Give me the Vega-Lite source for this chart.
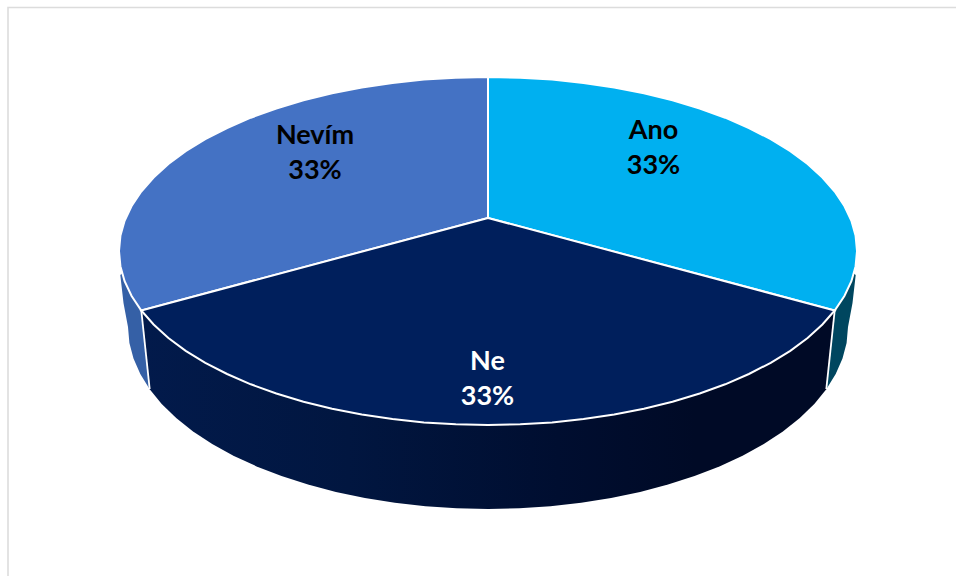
{"$schema":"https://vega.github.io/schema/vega-lite/v6.json","width":956,"height":576,"padding":0,"autosize":{"type":"none"},"background":"white","view":{"stroke":null},
"datasets":{
"frame":[{"x":956,"y":7.5,"seq":1},{"x":8,"y":7.5,"seq":2},{"x":8,"y":576,"seq":3}],
"outline":[
{"part":"RightWall","seq":1,"x":834.7,"y":310.5},{"part":"RightWall","seq":2,"x":850,"y":270},{"part":"RightWall","seq":3,"x":855.7,"y":275},{"part":"RightWall","seq":4,"x":852.5,"y":303},{"part":"RightWall","seq":5,"x":848,"y":327},{"part":"RightWall","seq":6,"x":846.6,"y":342.9},{"part":"RightWall","seq":7,"x":842.5,"y":358.6},{"part":"RightWall","seq":8,"x":835.7,"y":374.1},{"part":"RightWall","seq":9,"x":826.3,"y":389.2},
{"part":"LeftWall","seq":1,"x":141.3,"y":310.5},{"part":"LeftWall","seq":2,"x":126,"y":270},{"part":"LeftWall","seq":3,"x":120.3,"y":275},{"part":"LeftWall","seq":4,"x":123.5,"y":303},{"part":"LeftWall","seq":5,"x":128,"y":327},{"part":"LeftWall","seq":6,"x":129.4,"y":342.9},{"part":"LeftWall","seq":7,"x":133.5,"y":358.6},{"part":"LeftWall","seq":8,"x":140.3,"y":374.1},{"part":"LeftWall","seq":9,"x":149.7,"y":389.2},
{"part":"FrontWall","seq":1,"x":834.7,"y":310.5},{"part":"FrontWall","seq":2,"x":141.3,"y":310.5},{"part":"FrontWall","seq":3,"x":149.7,"y":389.2},{"part":"FrontWall","seq":4,"x":161.7,"y":403.9},{"part":"FrontWall","seq":5,"x":176.2,"y":418},{"part":"FrontWall","seq":6,"x":193.1,"y":431.4},{"part":"FrontWall","seq":7,"x":212.2,"y":444},{"part":"FrontWall","seq":8,"x":233.4,"y":455.7},{"part":"FrontWall","seq":9,"x":256.6,"y":466.4},{"part":"FrontWall","seq":10,"x":281.5,"y":476.1},{"part":"FrontWall","seq":11,"x":308,"y":484.6},{"part":"FrontWall","seq":12,"x":335.9,"y":491.9},{"part":"FrontWall","seq":13,"x":364.9,"y":498},{"part":"FrontWall","seq":14,"x":394.8,"y":502.8},{"part":"FrontWall","seq":15,"x":425.5,"y":506.2},{"part":"FrontWall","seq":16,"x":456.6,"y":508.3},{"part":"FrontWall","seq":17,"x":488,"y":509},{"part":"FrontWall","seq":18,"x":519.4,"y":508.3},{"part":"FrontWall","seq":19,"x":550.5,"y":506.2},{"part":"FrontWall","seq":20,"x":581.2,"y":502.8},{"part":"FrontWall","seq":21,"x":611.1,"y":498},{"part":"FrontWall","seq":22,"x":640.1,"y":491.9},{"part":"FrontWall","seq":23,"x":668,"y":484.6},{"part":"FrontWall","seq":24,"x":694.5,"y":476.1},{"part":"FrontWall","seq":25,"x":719.4,"y":466.4},{"part":"FrontWall","seq":26,"x":742.6,"y":455.7},{"part":"FrontWall","seq":27,"x":763.8,"y":444},{"part":"FrontWall","seq":28,"x":782.9,"y":431.4},{"part":"FrontWall","seq":29,"x":799.8,"y":418},{"part":"FrontWall","seq":30,"x":814.3,"y":403.9},{"part":"FrontWall","seq":31,"x":826.3,"y":389.2},
{"part":"Ano","seq":1,"x":488,"y":218},{"part":"Ano","seq":2,"x":488,"y":77},{"part":"Ano","seq":3,"x":520.2,"y":77.7},{"part":"Ano","seq":4,"x":552.1,"y":79.6},{"part":"Ano","seq":5,"x":583.5,"y":82.9},{"part":"Ano","seq":6,"x":614.2,"y":87.5},{"part":"Ano","seq":7,"x":643.9,"y":93.3},{"part":"Ano","seq":8,"x":672.5,"y":100.3},{"part":"Ano","seq":9,"x":699.7,"y":108.5},{"part":"Ano","seq":10,"x":725.2,"y":117.7},{"part":"Ano","seq":11,"x":748.9,"y":128},{"part":"Ano","seq":12,"x":770.7,"y":139.2},{"part":"Ano","seq":13,"x":790.3,"y":151.2},{"part":"Ano","seq":14,"x":807.6,"y":164},{"part":"Ano","seq":15,"x":822.4,"y":177.5},{"part":"Ano","seq":16,"x":834.7,"y":191.5},{"part":"Ano","seq":17,"x":844.4,"y":206},{"part":"Ano","seq":18,"x":851.4,"y":220.8},{"part":"Ano","seq":19,"x":855.6,"y":235.8},{"part":"Ano","seq":20,"x":857,"y":251},{"part":"Ano","seq":21,"x":855.6,"y":266.2},{"part":"Ano","seq":22,"x":851.4,"y":281.2},{"part":"Ano","seq":23,"x":844.4,"y":296},{"part":"Ano","seq":24,"x":834.7,"y":310.5},{"part":"Ano","seq":25,"x":488,"y":218},
{"part":"Ne","seq":1,"x":488,"y":218},{"part":"Ne","seq":2,"x":834.7,"y":310.5},{"part":"Ne","seq":3,"x":822.4,"y":324.5},{"part":"Ne","seq":4,"x":807.6,"y":338},{"part":"Ne","seq":5,"x":790.3,"y":350.8},{"part":"Ne","seq":6,"x":770.7,"y":362.8},{"part":"Ne","seq":7,"x":748.9,"y":374},{"part":"Ne","seq":8,"x":725.2,"y":384.3},{"part":"Ne","seq":9,"x":699.7,"y":393.5},{"part":"Ne","seq":10,"x":672.5,"y":401.7},{"part":"Ne","seq":11,"x":643.9,"y":408.7},{"part":"Ne","seq":12,"x":614.2,"y":414.5},{"part":"Ne","seq":13,"x":583.5,"y":419.1},{"part":"Ne","seq":14,"x":552.1,"y":422.4},{"part":"Ne","seq":15,"x":520.2,"y":424.3},{"part":"Ne","seq":16,"x":488,"y":425},{"part":"Ne","seq":17,"x":455.8,"y":424.3},{"part":"Ne","seq":18,"x":423.9,"y":422.4},{"part":"Ne","seq":19,"x":392.5,"y":419.1},{"part":"Ne","seq":20,"x":361.8,"y":414.5},{"part":"Ne","seq":21,"x":332.1,"y":408.7},{"part":"Ne","seq":22,"x":303.5,"y":401.7},{"part":"Ne","seq":23,"x":276.3,"y":393.5},{"part":"Ne","seq":24,"x":250.8,"y":384.3},{"part":"Ne","seq":25,"x":227.1,"y":374},{"part":"Ne","seq":26,"x":205.3,"y":362.8},{"part":"Ne","seq":27,"x":185.7,"y":350.8},{"part":"Ne","seq":28,"x":168.4,"y":338},{"part":"Ne","seq":29,"x":153.6,"y":324.5},{"part":"Ne","seq":30,"x":141.3,"y":310.5},{"part":"Ne","seq":31,"x":488,"y":218},
{"part":"Nevím","seq":1,"x":488,"y":218},{"part":"Nevím","seq":2,"x":141.3,"y":310.5},{"part":"Nevím","seq":3,"x":131.6,"y":296},{"part":"Nevím","seq":4,"x":124.6,"y":281.2},{"part":"Nevím","seq":5,"x":120.4,"y":266.2},{"part":"Nevím","seq":6,"x":119,"y":251},{"part":"Nevím","seq":7,"x":120.4,"y":235.8},{"part":"Nevím","seq":8,"x":124.6,"y":220.8},{"part":"Nevím","seq":9,"x":131.6,"y":206},{"part":"Nevím","seq":10,"x":141.3,"y":191.5},{"part":"Nevím","seq":11,"x":153.6,"y":177.5},{"part":"Nevím","seq":12,"x":168.4,"y":164},{"part":"Nevím","seq":13,"x":185.7,"y":151.2},{"part":"Nevím","seq":14,"x":205.3,"y":139.2},{"part":"Nevím","seq":15,"x":227.1,"y":128},{"part":"Nevím","seq":16,"x":250.8,"y":117.7},{"part":"Nevím","seq":17,"x":276.3,"y":108.5},{"part":"Nevím","seq":18,"x":303.5,"y":100.3},{"part":"Nevím","seq":19,"x":332.1,"y":93.3},{"part":"Nevím","seq":20,"x":361.8,"y":87.5},{"part":"Nevím","seq":21,"x":392.5,"y":82.9},{"part":"Nevím","seq":22,"x":423.9,"y":79.6},{"part":"Nevím","seq":23,"x":455.8,"y":77.7},{"part":"Nevím","seq":24,"x":488,"y":77},{"part":"Nevím","seq":25,"x":488,"y":218},
{"part":"SeamRight","seq":1,"x":834.7,"y":310.5},{"part":"SeamRight","seq":2,"x":826.3,"y":389.2},
{"part":"SeamLeft","seq":1,"x":141.3,"y":310.5},{"part":"SeamLeft","seq":2,"x":149.7,"y":389.2}
],
"labels":[
{"slice":"Ano","text":"Ano","x":653.5,"y":131},{"slice":"Ano","text":"33%","x":653.5,"y":166},
{"slice":"Ne","text":"Ne","x":487.5,"y":362},{"slice":"Ne","text":"33%","x":487.5,"y":397},
{"slice":"Nevím","text":"Nevím","x":315,"y":136},{"slice":"Nevím","text":"33%","x":315,"y":171}
]},
"encoding":{
"x":{"field":"x","type":"quantitative","scale":{"domain":[0,956],"nice":false,"zero":false},"axis":null},
"y":{"field":"y","type":"quantitative","scale":{"domain":[576,0],"nice":false,"zero":false},"axis":null}
},
"layer":[
{"data":{"name":"frame"},"mark":{"type":"line","stroke":"#dcdcdc","strokeWidth":1.6,"clip":true},"encoding":{"order":{"field":"seq"}}},
{"data":{"name":"outline"},"transform":[{"filter":"datum.part==='RightWall'"}],"mark":{"type":"line","fill":"#00465f","stroke":"#00465f","strokeWidth":0},"encoding":{"order":{"field":"seq"}}},
{"data":{"name":"outline"},"transform":[{"filter":"datum.part==='LeftWall'"}],"mark":{"type":"line","fill":"#3560a6","stroke":"#3560a6","strokeWidth":0},"encoding":{"order":{"field":"seq"}}},
{"data":{"name":"outline"},"transform":[{"filter":"datum.part==='FrontWall'"}],"mark":{"type":"line","strokeWidth":0,"stroke":"#001040","fill":{"gradient":"linear","x1":0,"y1":0,"x2":1,"y2":0,"stops":[{"offset":0,"color":"#021a4b"},{"offset":0.3,"color":"#011640"},{"offset":0.6,"color":"#000e30"},{"offset":0.8,"color":"#000a26"},{"offset":1,"color":"#000a26"}]}},"encoding":{"order":{"field":"seq"}}},
{"data":{"name":"outline"},"transform":[{"filter":"datum.part==='Ano'"}],"mark":{"type":"line","fill":"#00B0F0","stroke":"white","strokeWidth":2},"encoding":{"order":{"field":"seq"}}},
{"data":{"name":"outline"},"transform":[{"filter":"datum.part==='Nevím'"}],"mark":{"type":"line","fill":"#4472C4","stroke":"white","strokeWidth":2},"encoding":{"order":{"field":"seq"}}},
{"data":{"name":"outline"},"transform":[{"filter":"datum.part==='Ne'"}],"mark":{"type":"line","fill":"#001f5c","stroke":"white","strokeWidth":2},"encoding":{"order":{"field":"seq"}}},
{"data":{"name":"outline"},"transform":[{"filter":"datum.part==='SeamRight'"}],"mark":{"type":"line","stroke":"white","strokeWidth":1.8},"encoding":{"order":{"field":"seq"}}},
{"data":{"name":"outline"},"transform":[{"filter":"datum.part==='SeamLeft'"}],"mark":{"type":"line","stroke":"white","strokeWidth":1.8},"encoding":{"order":{"field":"seq"}}},
{"data":{"name":"labels"},"mark":{"type":"text","font":"Lato","fontWeight":"bold","fontSize":27,"align":"center","baseline":"middle"},"encoding":{"text":{"field":"text","type":"nominal"},"color":{"condition":{"test":"datum.slice==='Ne'","value":"white"},"value":"black"}}}
]}
